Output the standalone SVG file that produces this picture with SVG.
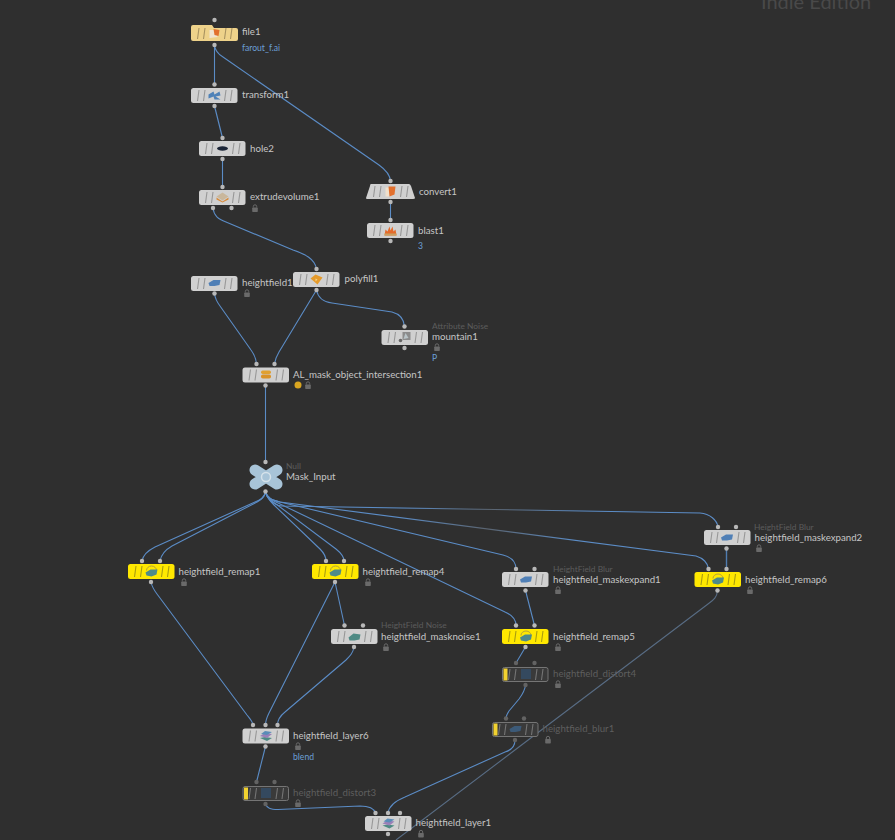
<svg xmlns="http://www.w3.org/2000/svg" xmlns:xlink="http://www.w3.org/1999/xlink" width="895" height="840" viewBox="0 0 895 840">
<style>
text{font-family:Lato,"Noto Sans","Liberation Sans",sans-serif;font-size:9.7px;fill:#c6c6c6}
text.d{fill:#5e5e5e}
text.y{fill:#5c5c5c;font-size:8.400px}
text.b{fill:#6c9fd6;font-size:8.600px}
.std{fill:#d0d0d0;stroke:#979797}
.yel{fill:#ffe800;stroke:#a89c10}
.byp{fill:#3a3a3a;stroke:#757575}
.dot{fill:#b8b8b8}
.dotd{fill:#636363}
#con path{fill:none;stroke:#5b8cc6;stroke-width:1.1}
</style>
<defs>
<linearGradient id="fade" x1="0" x2="1" y1="0" y2="0"><stop offset="0" stop-color="#5b8cc6"/><stop offset=".3" stop-color="#5b8cc6"/><stop offset=".5" stop-color="#5a6470"/><stop offset=".7" stop-color="#5b8cc6"/><stop offset="1" stop-color="#5b8cc6"/></linearGradient>
<g id="st" fill="none" stroke-width="1.100"><path d="M8 2 6.500 13M14 2 12.500 13M35 2 33.500 13M41 2 39.500 13"/></g>
<g id="body"><rect width="46.500" height="15" rx="2.500" stroke="none"/><use href="#st"/></g>
<g id="bodyb"><rect x=".5" y=".5" width="45.500" height="14" rx="2"/><use href="#st"/><rect x="1.500" y="1.500" width="4" height="12" fill="#f2d230" stroke="none"/></g>
<g id="lock"><rect x="-2.800" y="-1" width="5.600" height="4.500" rx=".7" fill="#6a6a6a"/><path d="M-1.700-1V-2A1.700 1.700 0 0 1 1.700-2V-1" fill="none" stroke="#6a6a6a"/></g>
<g id="i-file"><path d="M-5-3H2L3 4-5 5Z" fill="#f0e4d0"/><path d="M-1-4 5-3 4 3 0 2Z" fill="#e2702e"/></g>
<g id="i-xf"><path d="M-6-1-1-4 0-1 5-4 6 0 1 1 6 4 0 4-1 1-6 3Z" fill="#4f82b8"/></g>
<g id="i-hole"><ellipse rx="5.500" ry="2.200" fill="#1a2436"/></g>
<g id="i-ext"><path d="M-6-1 0-5 6-1 0 3Z" fill="#c9b79c"/><path d="M-6 0 0 4 6 0 6 2 0 5-6 2Z" fill="#d98b3a"/></g>
<g id="i-conv"><path d="M-5-4-1-4-1 5-5 5Z" fill="#f0e0cc"/><path d="M-2-5 5-5 4 3-1 5Z" fill="#e2702e"/></g>
<g id="i-blast"><path d="M-6 5-5-1-3 1-1-4 0 0 2-4 3 1 5-1 6 5Z" fill="#e46a2a"/><path d="M-6 3H6V5H-6Z" fill="#c9a060"/></g>
<g id="i-poly"><path d="M-6-1-1-5 6-2 1 5Z" fill="#e59a2a"/><path d="M-1-1 1 0-1 2Z" fill="#f6d488"/></g>
<g id="i-hf"><path d="M-6 0-1-3 6-3 5 2 0 3-5 3Z" fill="#4f7fb6"/></g>
<g id="i-mtn"><rect x="-2" y="-5" width="8" height="8" fill="#8c8c8c"/><path d="M-1 2 1-4 4 1Z" fill="#b9c4c8"/><circle cx="-4" cy="3.500" r="1.800" fill="#666"/></g>
<g id="i-al"><rect x="-5" y="-4" width="10" height="3.500" rx="1.700" fill="#e0a030"/><rect x="-5" y="0" width="10" height="4" rx="1.800" fill="#d99228"/></g>
<g id="i-rm"><path d="M-5-1A5 4.500 0 0 1 5-1" fill="none" stroke="#b3a23a"/><path d="M-6 1-1-2 6-2 5 3 0 5-5 4Z" fill="#4e8a8a"/></g>
<g id="i-rmg"><path d="M-6 1-1-3 6-2 5 3 0 4-5 4Z" fill="#4e8a84"/></g>
<g id="i-dist"><rect x="-5" y="-5" width="10" height="10" fill="#34495f"/></g>
<g id="i-blur"><path d="M-6 0-1-3 6-3 5 2 0 3-5 3Z" fill="#3c5a78"/></g>
<g id="i-lay"><path d="M-6 2-1 1 6 2 1 5Z" fill="#4e8a84"/><path d="M-6 0-1-3 6-2 1 2Z" fill="#9a7fb8"/><path d="M-5-2-1-5 6-4 1-1Z" fill="#5a8cb8"/></g>
</defs>
<rect width="895" height="840" fill="#2f2f2f"/>
<text x="761" y="9" style="font-size:20px;fill:#494949">Indie Edition</text>
<g id="con">
<path d="M214.500 45V84"/>
<path d="M214.500 45C215 51 218 54 223 57L379 165C386 170 390 175 390.500 181"/>
<path d="M214.500 106 222.500 138"/>
<path d="M222.500 159V187"/>
<path d="M390.500 202V220"/>
<path d="M213 208C214 216 218 219 226 222L293 250C305 254 315 259 316.500 269"/>
<path d="M214.500 293.500C215 298 217 302 220 306L251 350C254 354 256 358 256.500 364"/>
<path d="M316.500 290 279 352C276 357 275 360 274.500 364"/>
<path d="M316.500 290C318 298 323 302 332 303L392 312C400 314 404 320 404.500 326.500"/>
<path d="M265.500 385.500V462"/>
<path d="M265.500 492C264 498 260 500 255 502L155 547C147 551 143 555 142 561"/>
<path d="M265.500 492C264 498 262 499 257 502L172 546C165 550 161 555 160 561"/>
<path d="M265.500 492C267 498 270 501 274 505L320 549C324 553 326 557 326 561"/>
<path d="M265.500 492C267 498 271 501 276 504L336 549C341 553 344 557 344 561"/>
<path d="M265.500 492C267 498 271 500 278 503L505 612C512 615 516 620 516 625.500"/>
<path d="M265.500 492C267 498 272 500 280 502L503 555C511 557 516 562 516 569"/>
<path d="M265.500 492C267 498 272 500 280 502L696 556C703 558 708 563 708.500 569" style="stroke:url(#fade)"/>
<path d="M265.500 492C267 498 272 505 282 506L700 513C710 514 717 520 718 527" style="stroke:url(#fade)"/>
<path d="M151 582C152 587 154 590 157 594L247 715C251 720 253 722 253 725"/>
<path d="M335 582 269 713C267 717 265.500 720 265.500 725"/>
<path d="M335 582 344.500 625.500"/>
<path d="M354 647C353 653 350 656 346 660L285 712C280 716 277.500 720 277.500 725"/>
<path d="M265.500 746.500 256.500 782"/>
<path d="M265.500 804C267 808 270 809.500 278 809.500L360 806C368 806 374 808 375.500 813"/>
<path d="M525.500 590.500 534.500 625.500"/>
<path d="M525.500 647 516 663"/>
<path d="M525.500 685C525 690 522 695 519 699L509 711C507 714 506 716 506 718.500"/>
<path d="M515 740C515 746 512 750 505 752L405 797C395 801 389 806 388 813"/>
<path d="M717.500 590.500C717 597 714 600 708 604L396 840" style="stroke:#586c84"/>
<path d="M726.500 548.500V569" style="stroke:#4f7cb0;stroke-width:1.400"/>
</g>
<g id="file1">
<path d="M191 27Q191 25 193 25H212L214 28H236Q238 28 238 30V39Q238 41 236 41H193Q191 41 191 39Z" fill="#eed28a"/>
<use href="#st" x="191" y="26" stroke="#a89260"/><use href="#i-file" x="214.500" y="33"/>
<circle class="dot" cx="214.500" cy="20" r="2.200"/><circle class="dot" cx="214.500" cy="45" r="2.200"/>
<text x="242" y="35">file1</text><text class="b" x="242" y="51">farout_f.ai</text></g>
<g id="transform1"><use class="std" href="#body" x="191" y="88"/><use href="#i-xf" x="214.500" y="95.500"/><circle class="dot" cx="214.500" cy="84.500" r="2.200"/><circle class="dot" cx="214.500" cy="106" r="2.200"/><text x="242" y="98">transform1</text></g>
<g id="hole2"><use class="std" href="#body" x="199" y="141"/><use href="#i-hole" x="222.500" y="148.500"/><circle class="dot" cx="222.500" cy="138" r="2.200"/><circle class="dot" cx="222.500" cy="159" r="2.200"/><text x="250" y="152">hole2</text></g>
<g id="extrudevolume1"><use class="std" href="#body" x="199" y="190"/><use href="#i-ext" x="222.500" y="197.500"/><circle class="dot" cx="222.500" cy="187" r="2.200"/><circle class="dot" cx="213" cy="208" r="2.200"/><circle class="dot" cx="231.500" cy="208" r="2.200"/><text x="250" y="200">extrudevolume1</text><use href="#lock" x="255" y="208.500"/></g>
<g id="convert1"><path d="M371 184H409Q410 184 411 186L415 198Q415 199 413 199H367Q366 199 366 198L370 186Q370 184 371 184Z" fill="#d0d0d0"/><use href="#st" x="367" y="184" stroke="#979797"/><use href="#i-conv" x="390.500" y="191.500"/><circle class="dot" cx="390.500" cy="181" r="2.200"/><circle class="dot" cx="390.500" cy="202" r="2.200"/><text x="419" y="195">convert1</text></g>
<g id="blast1"><use class="std" href="#body" x="367" y="223"/><use href="#i-blast" x="390.500" y="230.500"/><circle class="dot" cx="390.500" cy="220" r="2.200"/><circle class="dot" cx="390.500" cy="241" r="2.200"/><text x="418" y="234">blast1</text><text class="b" x="418" y="249">3</text></g>
<g id="polyfill1"><use class="std" href="#body" x="293" y="272"/><use href="#i-poly" x="316.500" y="279.500"/><circle class="dot" cx="316.500" cy="269" r="2.200"/><circle class="dot" cx="316.500" cy="290" r="2.200"/><text x="344.500" y="282">polyfill1</text></g>
<g id="heightfield1"><use class="std" href="#body" x="191" y="276"/><use href="#i-hf" x="214.500" y="283"/><circle class="dot" cx="214.500" cy="293.500" r="2.200"/><text x="242" y="286">heightfield1</text><use href="#lock" x="247" y="293.500"/></g>
<g id="mountain1"><use class="std" href="#body" x="381.500" y="330"/><use href="#i-mtn" x="404.500" y="337"/><circle class="dot" cx="404.500" cy="326.500" r="2.200"/><circle class="dot" cx="404.500" cy="348" r="2.200"/><text class="y" x="432" y="329">Attribute Noise</text><text x="432" y="340">mountain1</text><use href="#lock" x="437" y="347.500"/><text class="b" x="432" y="361">P</text></g>
<g id="AL_mask_object_intersection1"><use class="std" href="#body" x="242.500" y="367.500"/><use href="#i-al" x="266" y="374.500"/><circle class="dot" cx="256.500" cy="364" r="2.200"/><circle class="dot" cx="274.500" cy="364" r="2.200"/><circle class="dot" cx="265.500" cy="385.500" r="2.200"/><text x="293" y="378">AL_mask_object_intersection1</text><circle cx="298" cy="385" r="3.500" fill="#d9a520"/><use href="#lock" x="308" y="385.500"/></g>
<g id="Mask_Input"><path d="M255 470 277 484M277 470 255 484" stroke="#a8c4d8" stroke-width="11" stroke-linecap="round" fill="none"/><circle cx="266" cy="477" r="4.500" fill="#a8c4d8" stroke="#d5e2ea" stroke-width="1.500"/><circle class="dot" cx="265.500" cy="462" r="2.200"/><circle class="dot" cx="265.500" cy="491.500" r="2.200"/><text class="y" x="286" y="469">Null</text><text x="286" y="480">Mask_Input</text></g>
<g id="heightfield_remap1"><use class="yel" href="#body" x="128" y="564"/><use href="#i-rm" x="151.500" y="571.500"/><circle class="dot" cx="142" cy="561" r="2.200"/><circle class="dot" cx="160" cy="561" r="2.200"/><circle class="dot" cx="151" cy="582" r="2.200"/><text x="178.500" y="575">heightfield_remap1</text><use href="#lock" x="184" y="582.500"/></g>
<g id="heightfield_remap4"><use class="yel" href="#body" x="312" y="564"/><use href="#i-rm" x="335.500" y="571.500"/><circle class="dot" cx="326" cy="561" r="2.200"/><circle class="dot" cx="344" cy="561" r="2.200"/><circle class="dot" cx="335" cy="582" r="2.200"/><text x="362.500" y="575">heightfield_remap4</text><use href="#lock" x="368" y="582.500"/></g>
<g id="heightfield_masknoise1"><use class="std" href="#body" x="331" y="629"/><use href="#i-rmg" x="354.500" y="636.500"/><circle class="dot" cx="344.500" cy="625.500" r="2.200"/><circle class="dot" cx="363" cy="625.500" r="2.200"/><circle class="dot" cx="354" cy="647" r="2.200"/><text class="y" x="381" y="628">HeightField Noise</text><text x="381" y="640">heightfield_masknoise1</text><use href="#lock" x="386" y="647.500"/></g>
<g id="heightfield_maskexpand1"><use class="std" href="#body" x="502" y="572"/><use href="#i-hf" x="526" y="579.500"/><circle class="dot" cx="516" cy="569" r="2.200"/><circle class="dot" cx="534.500" cy="569" r="2.200"/><circle class="dot" cx="525.500" cy="590.500" r="2.200"/><text class="y" x="553" y="572">HeightField Blur</text><text x="553" y="583">heightfield_maskexpand1</text><use href="#lock" x="558" y="590.500"/></g>
<g id="heightfield_remap5"><use class="yel" href="#body" x="502" y="629"/><use href="#i-rm" x="526" y="636.500"/><circle class="dot" cx="516" cy="625.500" r="2.200"/><circle class="dot" cx="534.500" cy="625.500" r="2.200"/><circle class="dot" cx="525.500" cy="647" r="2.200"/><text x="553" y="640">heightfield_remap5</text><use href="#lock" x="558" y="647.500"/></g>
<g id="heightfield_distort4"><use class="byp" href="#bodyb" x="502" y="667"/><use href="#i-dist" x="526" y="674"/><circle class="dotd" cx="516" cy="663" r="2.200"/><circle class="dotd" cx="534.500" cy="663" r="2.200"/><circle class="dotd" cx="525.500" cy="685" r="2.200"/><text class="d" x="553" y="677">heightfield_distort4</text><use href="#lock" x="558" y="684.500"/></g>
<g id="heightfield_blur1"><use class="byp" href="#bodyb" x="492" y="722"/><use href="#i-blur" x="515.500" y="729"/><circle class="dotd" cx="506" cy="718.500" r="2.200"/><circle class="dotd" cx="524" cy="718.500" r="2.200"/><circle class="dotd" cx="515" cy="740" r="2.200"/><text class="d" x="542.500" y="732">heightfield_blur1</text><use href="#lock" x="548" y="740"/></g>
<g id="heightfield_maskexpand2"><use class="std" href="#body" x="704" y="530"/><use href="#i-hf" x="727" y="537.500"/><circle class="dot" cx="718" cy="527" r="2.200"/><circle class="dot" cx="736" cy="527" r="2.200"/><circle class="dot" cx="726.500" cy="548.500" r="2.200"/><text class="y" x="754" y="530">HeightField Blur</text><text x="754.500" y="541">heightfield_maskexpand2</text><use href="#lock" x="759" y="548.500"/></g>
<g id="heightfield_remap6"><use class="yel" href="#body" x="694.500" y="572"/><use href="#i-rm" x="718" y="579.500"/><circle class="dot" cx="708.500" cy="569" r="2.200"/><circle class="dot" cx="726.500" cy="569" r="2.200"/><circle class="dot" cx="717.500" cy="590.500" r="2.200"/><text x="745" y="583">heightfield_remap6</text><use href="#lock" x="750" y="590.500"/></g>
<g id="heightfield_layer6"><use class="std" href="#body" x="242.500" y="728.500"/><use href="#i-lay" x="266" y="736"/><circle class="dot" cx="253" cy="725" r="2.200"/><circle class="dot" cx="265.500" cy="725" r="2.200"/><circle class="dot" cx="277.500" cy="725" r="2.200"/><circle class="dot" cx="265.500" cy="746.500" r="2.200"/><text x="293" y="739">heightfield_layer6</text><use href="#lock" x="298" y="746.500"/><text class="b" x="293" y="760">blend</text></g>
<g id="heightfield_distort3"><use class="byp" href="#bodyb" x="242.500" y="786"/><use href="#i-dist" x="266" y="793"/><circle class="dotd" cx="256.500" cy="782" r="2.200"/><circle class="dotd" cx="274.500" cy="782" r="2.200"/><circle class="dotd" cx="265.500" cy="804" r="2.200"/><text class="d" x="293" y="796">heightfield_distort3</text><use href="#lock" x="298" y="803.500"/></g>
<g id="heightfield_layer1"><use class="std" href="#body" x="365" y="816"/><use href="#i-lay" x="388.500" y="823.500"/><circle class="dot" cx="375.500" cy="813" r="2.200"/><circle class="dot" cx="388" cy="813" r="2.200"/><circle class="dot" cx="400" cy="813" r="2.200"/><circle class="dot" cx="388" cy="834" r="2.200"/><text x="415.500" y="826">heightfield_layer1</text><use href="#lock" x="421" y="834"/></g>
</svg>
